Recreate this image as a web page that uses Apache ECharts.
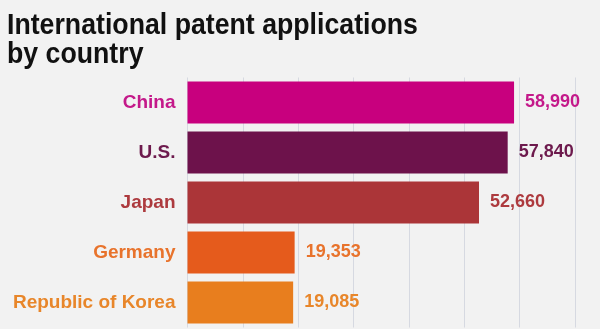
<!DOCTYPE html>
<html>
<head>
<meta charset="utf-8">
<style>
  html, body { margin: 0; padding: 0; background: #f2f2f2; }
  #chart { width: 600px; height: 329px; }
</style>
<script src="https://cdn.jsdelivr.net/npm/echarts@6/dist/echarts.min.js"></script>
</head>
<body>
<div id="chart"></div>
<script>
// Countries and their international patent application counts
const countries = ['China', 'U.S.', 'Japan', 'Germany', 'Republic of Korea'];
const applications = [58990, 57840, 52660, 19353, 19085];
const barColors = ['#c8007e', '#6d124b', '#ab3538', '#e55b1c', '#e87e1e'];
const labelColors = ['#c4198a', '#6d1a4d', '#ad3a3e', '#e8732c', '#e8862a'];
const titleLines = ['International patent applications', 'by country'];

const FONT = '"Liberation Sans", Arial, Helvetica, sans-serif';

const chart = echarts.init(document.getElementById('chart'));

chart.setOption({
  backgroundColor: '#f2f2f2',
  animation: false,
  graphic: [{
    type: 'text',
    left: 7,
    top: 11,
    scaleX: 0.89,
    originX: 0,
    style: {
      text: titleLines.join('\n'),
      font: 'bold 30px ' + FONT,
      lineHeight: 29,
      fill: '#111111'
    }
  }],
  grid: { left: 187.5, right: 25, top: 77.5, bottom: 1.5 },
  xAxis: {
    type: 'value',
    min: 0,
    max: 70000,
    interval: 10000,
    axisLabel: { show: false },
    axisLine: { show: false },
    axisTick: { show: false },
    splitLine: { show: true, lineStyle: { color: '#d6d9e1', width: 1 } }
  },
  yAxis: {
    type: 'category',
    data: countries,
    inverse: true,
    axisLine: { show: false },
    axisTick: { show: false },
    axisLabel: {
      margin: 12,
      fontFamily: FONT,
      fontWeight: 'bold',
      fontSize: 19,
      color: (value, index) => labelColors[index]
    }
  },
  series: [{
    type: 'bar',
    barCategoryGap: '16%',
    data: applications.map((v, i) => ({
      value: v,
      itemStyle: { color: barColors[i] },
      label: { color: labelColors[i] }
    })),
    label: {
      show: true,
      position: 'right',
      distance: 11,
      fontFamily: FONT,
      fontWeight: 'bold',
      fontSize: 18,
      formatter: p => p.value.toLocaleString('en-US')
    }
  }]
});
</script>
</body>
</html>
